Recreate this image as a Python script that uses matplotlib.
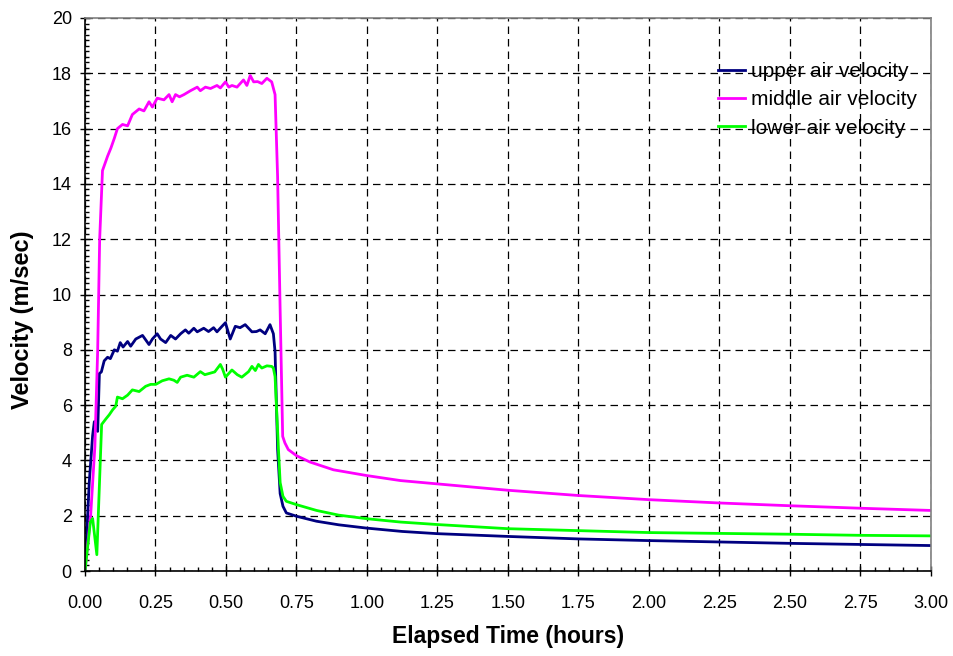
import matplotlib
matplotlib.use("Agg")
import matplotlib.pyplot as plt
from matplotlib.ticker import MultipleLocator, FormatStrFormatter

plt.rcParams['font.family'] = ['Liberation Sans', 'DejaVu Sans']

# ---------- DATA ----------
t_upper = [0, 0.015, 0.027, 0.033, 0.040, 0.045, 0.051, 0.058, 0.068, 0.080, 0.090,
           0.104, 0.115, 0.125, 0.135, 0.151, 0.162, 0.180, 0.204, 0.227, 0.239,
           0.256, 0.268, 0.286, 0.304, 0.321, 0.339, 0.356, 0.368, 0.386, 0.398,
           0.421, 0.438, 0.456, 0.468, 0.485, 0.498, 0.515, 0.533, 0.550, 0.568,
           0.592, 0.608, 0.621, 0.639, 0.656, 0.668, 0.674, 0.683, 0.692, 0.702,
           0.714, 0.75, 0.821, 0.90, 1.0, 1.125, 1.25, 1.5, 1.75, 2.0, 2.25, 2.5,
           2.75, 3.0]
v_upper = [0, 3.2, 4.9, 5.4, 5.4, 5.05, 7.14, 7.2, 7.6, 7.73, 7.68,
           8.0, 7.95, 8.26, 8.1, 8.3, 8.13, 8.39, 8.52, 8.19, 8.39,
           8.58, 8.39, 8.26, 8.52, 8.39, 8.58, 8.72, 8.6, 8.78, 8.65,
           8.78, 8.66, 8.8, 8.65, 8.84, 8.98, 8.39, 8.85, 8.8, 8.91,
           8.65, 8.66, 8.72, 8.58, 8.91, 8.58, 7.93, 4.4, 2.8, 2.34,
           2.1, 1.98, 1.8, 1.67, 1.55, 1.43, 1.35, 1.25, 1.16, 1.1, 1.05, 1.0,
           0.96, 0.92]

t_middle = [0, 0.02, 0.035, 0.045, 0.052, 0.062, 0.08, 0.092, 0.104, 0.115, 0.133,
            0.151, 0.168, 0.192, 0.209, 0.227, 0.239, 0.256, 0.28, 0.298, 0.309,
            0.321, 0.335, 0.351, 0.374, 0.398, 0.409, 0.427, 0.445, 0.468, 0.48,
            0.498, 0.51, 0.521, 0.539, 0.562, 0.574, 0.586, 0.598, 0.612, 0.627,
            0.645, 0.662, 0.674, 0.683, 0.692, 0.701, 0.709, 0.721, 0.75, 0.798,
            0.881, 1.0, 1.119, 1.25, 1.5, 1.75, 2.0, 2.25, 2.5, 2.75, 3.0]
v_middle = [0, 2.0, 4.5, 8.0, 12.0, 14.48, 15.0, 15.3, 15.65, 16.0, 16.15,
            16.1, 16.51, 16.71, 16.64, 16.97, 16.78, 17.1, 17.04, 17.23, 16.97,
            17.23, 17.15, 17.23, 17.37, 17.5, 17.37, 17.5, 17.45, 17.56, 17.47,
            17.69, 17.5, 17.56, 17.5, 17.76, 17.56, 17.92, 17.69, 17.7, 17.63,
            17.82, 17.69, 17.23, 14.25, 9.44, 4.87, 4.63, 4.39, 4.17, 3.94,
            3.66, 3.45, 3.27, 3.15, 2.92, 2.73, 2.58, 2.46, 2.36, 2.27, 2.19]

t_lower = [0, 0.019, 0.027, 0.042, 0.059, 0.074, 0.086, 0.098, 0.109, 0.115, 0.133,
           0.151, 0.168, 0.192, 0.215, 0.233, 0.251, 0.274, 0.298, 0.315, 0.327,
           0.339, 0.362, 0.386, 0.409, 0.425, 0.439, 0.46, 0.48, 0.488, 0.498,
           0.521, 0.54, 0.556, 0.58, 0.592, 0.604, 0.615, 0.627, 0.645, 0.662,
           0.668, 0.674, 0.686, 0.692, 0.702, 0.714, 0.75, 0.821, 0.9, 1.0,
           1.119, 1.25, 1.5, 1.75, 2.0, 2.25, 2.5, 2.75, 3.0]
v_lower = [0, 1.77, 1.9, 0.59, 5.3, 5.5, 5.65, 5.83, 5.96, 6.29, 6.23,
           6.36, 6.55, 6.49, 6.68, 6.75, 6.75, 6.88, 6.95, 6.9, 6.82,
           7.01, 7.08, 7.01, 7.21, 7.1, 7.14, 7.2, 7.47, 7.3, 7.01,
           7.27, 7.1, 7.01, 7.21, 7.4, 7.25, 7.47, 7.34, 7.42, 7.4,
           7.34, 7.03, 4.4, 3.2, 2.7, 2.52, 2.4, 2.19, 2.02, 1.89,
           1.77, 1.68, 1.53, 1.46, 1.39, 1.36, 1.33, 1.29, 1.27]

labels = ["upper air velocity", "middle air velocity", "lower air velocity"]
colors = ["#000080", "#FF00FF", "#00FF00"]
# --------------------------

fig = plt.figure(figsize=(9.54, 6.56), dpi=100)
ax = fig.add_axes([85 / 954, 1 - 571 / 656, 846 / 954, 553 / 656])

ax.plot(t_upper, v_upper, color=colors[0], lw=2.0, label=labels[0])
ax.plot(t_middle, v_middle, color=colors[1], lw=2.0, label=labels[1])
ax.plot(t_lower, v_lower, color=colors[2], lw=2.0, label=labels[2])

ax.set_xlim(0, 3)
ax.set_ylim(0, 20)
ax.xaxis.set_major_locator(MultipleLocator(0.25))
ax.xaxis.set_minor_locator(MultipleLocator(0.05))
ax.yaxis.set_major_locator(MultipleLocator(2))
ax.yaxis.set_minor_locator(MultipleLocator(0.2))
ax.xaxis.set_major_formatter(FormatStrFormatter("%.2f"))

ax.tick_params(which="major", direction="inout", length=7, width=1, labelsize=13)
ax.tick_params(which="minor", direction="in", length=3, width=1)
ax.tick_params(axis="x", which="major", pad=14)
ax.tick_params(axis="y", which="major", pad=6)
ax.tick_params(top=False, right=False, which="both")

ax.grid(True, which="major", color="black", linestyle=(0, (6, 4)), lw=0.9)
ax.set_axisbelow(True)

for side in ["top", "right"]:
    ax.spines[side].set_color("#808080")
    ax.spines[side].set_linewidth(1.2)
for side in ["left", "bottom"]:
    ax.spines[side].set_color("black")
    ax.spines[side].set_linewidth(1.2)

ax.set_xlabel("Elapsed Time (hours)", fontsize=16.5, fontweight="bold", labelpad=9)
ax.set_ylabel("Velocity (m/sec)", fontsize=17, fontweight="bold")
ax.yaxis.set_label_coords(-0.060, 0.454)

ax.legend(loc="upper left", bbox_to_anchor=(718 / 954, 1 - 62 / 656),
          bbox_transform=fig.transFigure, frameon=False, borderpad=0,
          borderaxespad=0, fontsize=15, handlelength=1.3, labelspacing=0.45,
          handletextpad=0.3)

fig.savefig("out.png", dpi=100)
